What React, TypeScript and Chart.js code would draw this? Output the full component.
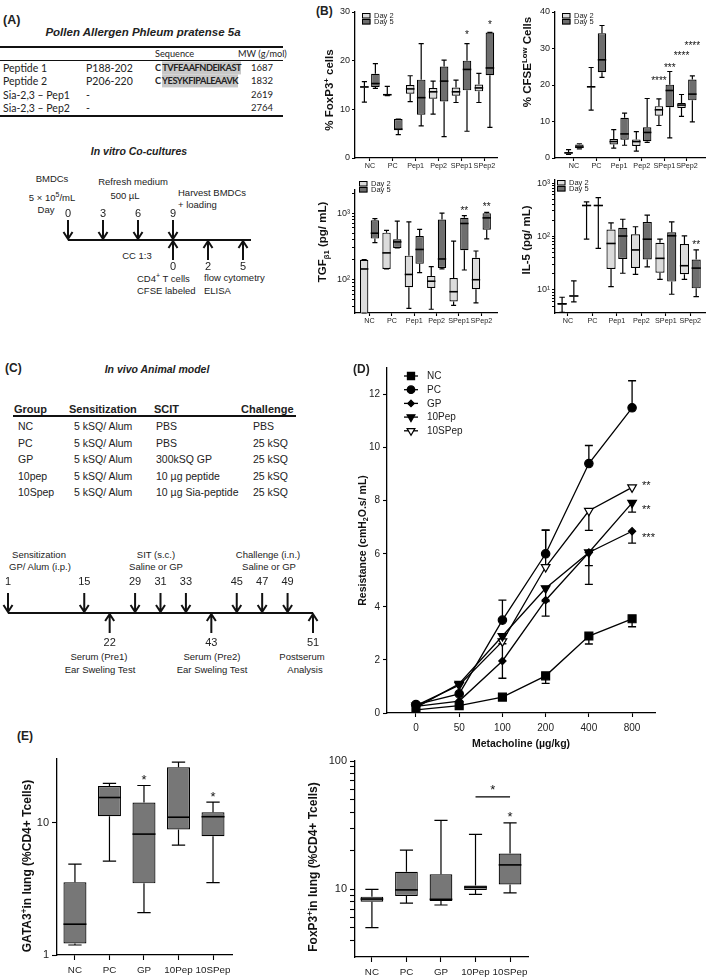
import React, { useEffect, useRef } from 'react';
import { Chart, registerables } from 'chart.js';

Chart.register(...registerables);

const FONT = "'Liberation Sans', Arial, Helvetica, sans-serif";
const TABLE_FONT = "Lato, 'Liberation Sans', sans-serif";
Chart.defaults.font.family = FONT;
Chart.defaults.color = '#222';

// ================= DATA =================
// Panel A - peptide table
const peptideNames = ['Peptide 1', 'Peptide 2', 'Sia-2,3 – Pep1', 'Sia-2,3 – Pep2'];
const peptideRegions = ['P188-202', 'P206-220', '-', '-'];
const peptideSequences = ['TVFEAAFNDEIKAST', 'YESYKFIPALEAAVK', '', ''];
const peptideMW = ['1687', '1832', '2619', '2764'];

// Panel A - in vitro timeline
const vitroSlots = ['D0', 'D3', 'D6', 'D9', 'CC2', 'CC5'];
const vitroDownSlots = ['D0', 'D3', 'D6', 'D9'];
const vitroDownDays = ['0', '3', '6', '9'];
const vitroUpSlots = ['D9', 'CC2', 'CC5'];
const vitroUpDays = ['0', '2', '5'];

// Panel B - box stats [min, q1, median, q3, max]
const bGroups = ['NC', 'PC', 'Pep1', 'Pep2', 'SPep1', 'SPep2'];
const foxp3Day2 = [[11.5, 14.5, 14.6, 14.7, 15.7], [12.8, 12.9, 13.0, 13.1, 14.7], [11.6, 13.2, 14.2, 15.0, 16.9], [9.0, 12.2, 13.6, 14.4, 15.8], [11.4, 12.8, 13.6, 14.5, 16.0], [11.4, 13.7, 14.4, 15.1, 17.4]];
const foxp3Day5 = [[14.3, 14.6, 15.3, 17.3, 19.4], [4.8, 5.8, 5.9, 8.0, 8.0], [6.6, 8.9, 12.4, 16.1, 23.5], [4.4, 11.6, 15.8, 18.8, 20.1], [5.5, 13.9, 18.2, 20.0, 23.5], [6.3, 17.0, 18.5, 25.8, 25.8]];
const cfseDay2 = [[1.0, 1.2, 1.4, 1.6, 2.3], [13.1, 19.4, 19.5, 19.6, 24.8], [2.7, 3.7, 4.5, 5.2, 7.8], [1.9, 3.3, 4.5, 5.1, 7.2], [8.9, 11.6, 13.2, 14.2, 16.2], [11.4, 13.7, 14.5, 15.1, 17.4]];
const cfseDay5 = [[2.5, 2.7, 3.0, 3.7, 3.9], [22.1, 23.5, 26.9, 34.2, 36.3], [3.5, 5.0, 6.6, 11.0, 12.3], [4.3, 4.6, 7.0, 8.4, 16.3], [5.5, 13.9, 18.5, 20.1, 23.7], [9.9, 15.8, 17.5, 21.5, 22.5]];
const tgfDay2 = [[1, 1, 145, 200, 200], [145, 145, 253, 510, 550], [37, 77, 120, 230, 740], [36, 75, 95, 114, 157], [41, 47, 66, 106, 380], [45, 72, 100, 213, 270]];
const tgfDay5 = [[360, 415, 500, 780, 830], [300, 300, 370, 405, 760], [128, 173, 285, 455, 570], [145, 150, 205, 800, 1000], [140, 277, 700, 850, 920], [410, 565, 850, 1000, 1030]];
const il5Day2 = [[3.8, 5.3, 5.5, 5.7, 7.3], [89, 370, 380, 390, 445], [11.5, 24.6, 74, 135, 180], [19.6, 25.7, 56, 110, 152], [15.8, 21, 39, 76, 89], [15.8, 19.6, 28.4, 72, 103]];
const il5Day5 = [[6.0, 7.5, 7.7, 7.9, 14.8], [60, 370, 380, 390, 535], [20.5, 38, 102, 145, 210], [27, 37, 89, 187, 250], [8.3, 14.3, 103, 120, 187], [7.5, 10.7, 25.6, 37, 56]];

// Panel C - animal model table
const groupNames = ['NC', 'PC', 'GP', '10pep', '10Spep'];
const sensitizations = ['5 kSQ/ Alum', '5 kSQ/ Alum', '5 kSQ/ Alum', '5 kSQ/ Alum', '5 kSQ/ Alum'];
const scitTreatments = ['PBS', 'PBS', '300kSQ GP', '10 µg peptide', '10 µg Sia-peptide'];
const challenges = ['PBS', '25 kSQ', '25 kSQ', '25 kSQ', '25 kSQ'];

// Panel C - in vivo timeline (blank slots keep the spacing of the schedule)
const vivoSlots = ['1', '', '', '15', '22', '29', '31', '33', '43', '45', '47', '49', '51'];
const vivoDownDays = ['1', '15', '29', '31', '33', '45', '47', '49'];
const vivoUpDays = ['22', '43', '51'];

// Panel D - airway resistance
const doseLabels = ['0', '50', '100', '200', '400', '800'];
const ncResistance = [0.12, 0.28, 0.6, 1.4, 2.9, 3.55];
const ncErrUp = [0, 0, 0, 0, 0, 0];
const ncErrDown = [0, 0, 0, 0.28, 0.3, 0.3];
const pcResistance = [0.32, 0.72, 3.5, 6.0, 9.4, 11.5];
const pcErrUp = [0, 0, 0.75, 0.9, 0.68, 1.02];
const pcErrDown = [0, 0, 0, 0, 0, 0];
const gpResistance = [0.25, 0.45, 1.96, 4.25, 6.05, 6.85];
const gpErrUp = [0, 0, 0.65, 0, 0, 0];
const gpErrDown = [0, 0, 0.65, 0.6, 1.2, 0.45];
const pep10Resistance = [0.2, 1.1, 2.9, 4.7, 6.05, 7.92];
const pep10ErrUp = [0, 0, 0, 0, 0, 0];
const pep10ErrDown = [0, 0, 0, 0.5, 0.5, 0.35];
const spep10Resistance = [0.28, 1.05, 2.7, 5.5, 7.62, 8.5];
const spep10ErrUp = [0, 0, 0, 1.38, 0, 0];
const spep10ErrDown = [0, 0, 0, 0, 0.74, 0];

// Panel E - lung T cells [min, q1, median, q3, max]
const eGroups = ['NC', 'PC', 'GP', '10Pep', '10SPep'];
const gata3Lung = [[1.19, 1.22, 1.71, 3.54, 4.87], [5.13, 11.2, 15.5, 18.9, 19.8], [2.09, 3.48, 8.2, 14.2, 19.1], [6.78, 8.9, 11.0, 26.2, 28.7], [3.52, 7.9, 11.1, 12.0, 14.3]];
const foxp3Lung = [[5.03, 8.0, 8.4, 8.77, 10.0], [7.8, 8.88, 9.9, 13.7, 20.2], [7.55, 8.1, 8.36, 13.1, 34.5], [9.14, 9.9, 10.4, 10.7, 26.8], [9.4, 10.9, 15.5, 19.0, 33.0]];

// ================= HELPERS =================
type Rect = { l: number; t: number; w: number; h: number };
type Area = { l: number; t: number; r: number; b: number };
type Seg = { t: string; sup?: boolean; sub?: boolean };
type Mark = { ds: number; i: number; v: number; text: string; dx?: number };

const LIGHT = '#dcdcdc';
const DARK = '#6e6e6e';
const EFILL = '#777777';
const SUPD: Record<number, string> = { 0: '⁰', 1: '¹', 2: '²', 3: '³' };

const isPow10 = (v: number) => {
  const l = Math.log10(v);
  return Math.abs(l - Math.round(l)) < 1e-9;
};
const powerLabel = (v: number) => (isPow10(v) ? '10' + SUPD[Math.round(Math.log10(v))] : '');
const plainPowerLabel = (v: number) => (isPow10(v) ? String(Math.round(v)) : '');
const logFilter = (minor: boolean) => (s: any) => {
  s.ticks = s.ticks.filter((t: any) => {
    const e = Math.floor(Math.log10(t.value) + 1e-9);
    const m = t.value / Math.pow(10, e);
    const intM = Math.abs(m - Math.round(m)) < 1e-6;
    return intM && (minor || Math.round(m) === 1) && t.value >= s.min * 0.999 && t.value <= s.max * 1.001;
  });
};

function drawRich(ctx: CanvasRenderingContext2D, segs: Seg[], cx: number, cy: number, size: number, bold: boolean, rotate: boolean) {
  ctx.save();
  ctx.translate(cx, cy);
  if (rotate) ctx.rotate(-Math.PI / 2);
  const fontOf = (s: number) => `${bold ? 'bold ' : ''}${s}px ${FONT}`;
  const parts = segs.map((g) => {
    const s = g.sup || g.sub ? size * 0.68 : size;
    ctx.font = fontOf(s);
    return { ...g, s, w: ctx.measureText(g.t).width };
  });
  const total = parts.reduce((acc, p) => acc + p.w, 0);
  let x = -total / 2;
  ctx.fillStyle = '#111';
  ctx.textAlign = 'left';
  ctx.textBaseline = 'alphabetic';
  for (const p of parts) {
    ctx.font = fontOf(p.s);
    const dy = p.sup ? -size * 0.4 : p.sub ? size * 0.22 : 0;
    ctx.fillText(p.t, x, size * 0.36 + dy);
    x += p.w;
  }
  ctx.restore();
}

function frame(c: Rect, a: Area) {
  return {
    responsive: false,
    maintainAspectRatio: false,
    animation: false,
    devicePixelRatio: 1,
    events: [],
    layout: { padding: { left: 0, top: a.t - c.t, right: c.l + c.w - a.r, bottom: 0 } },
    plugins: { legend: { display: false }, tooltip: { enabled: false } },
  };
}

const axisBorder = { display: true, color: '#000', width: 1.3 };
const tickGrid = (len: number) => ({ display: true, drawOnChartArea: false, drawTicks: true, tickLength: len, color: '#000', tickColor: '#000', tickWidth: 1.1, offset: false });

function yAxis(c: Rect, a: Area, o: any) {
  return {
    type: o.log ? 'logarithmic' : 'linear',
    min: o.min,
    max: o.max,
    afterFit: (s: any) => { s.width = a.l - c.l; },
    afterBuildTicks: o.filter,
    border: axisBorder,
    grid: tickGrid(o.tickLen),
    ticks: { font: { size: o.font }, color: '#222', padding: o.pad, autoSkip: false, stepSize: o.step, callback: o.label },
  };
}

function xIndexAxis(c: Rect, a: Area, labels: string[], min: number, max: number, font: number, tickLen: number, pad: number) {
  return {
    type: 'linear',
    min,
    max,
    offset: false,
    afterFit: (s: any) => { s.height = c.t + c.h - a.b; },
    afterBuildTicks: (s: any) => { s.ticks = labels.map((_, i) => ({ value: i })); },
    border: axisBorder,
    grid: tickGrid(tickLen),
    ticks: { font: { size: font }, color: '#222', padding: pad, autoSkip: false, maxRotation: 0, minRotation: 0, callback: (v: number) => labels[v] ?? '' },
  };
}

function axisTitlePlugin(c: Rect, yTitle: { segs: Seg[]; x: number; y?: number; size: number } | null, xTitle: { segs: Seg[]; y: number; size: number } | null) {
  return {
    id: 'axisTitles',
    afterDraw(chart: any) {
      const { ctx, chartArea } = chart;
      if (yTitle) {
        const cy = yTitle.y !== undefined ? yTitle.y - c.t : (chartArea.top + chartArea.bottom) / 2;
        drawRich(ctx, yTitle.segs, yTitle.x - c.l, cy, yTitle.size, true, true);
      }
      if (xTitle) {
        drawRich(ctx, xTitle.segs, (chartArea.left + chartArea.right) / 2, xTitle.y - c.t, xTitle.size, true, false);
      }
    },
  };
}

function whiskerPlugin(stats: number[][][], cap: number) {
  return {
    id: 'whiskers',
    afterDatasetsDraw(chart: any) {
      const { ctx, chartArea } = chart;
      const ys = chart.scales.y;
      const clampY = (p: number) => Math.min(Math.max(p, chartArea.top), chartArea.bottom);
      ctx.save();
      ctx.strokeStyle = '#000';
      stats.forEach((ds, di) => {
        const meta = chart.getDatasetMeta(di);
        ds.forEach((s, i) => {
          const el = meta.data[i];
          if (!el) return;
          const x = el.x;
          const w = el.width;
          const p = s.map((v) => clampY(ys.getPixelForValue(v)));
          ctx.lineWidth = 1.2;
          ctx.beginPath();
          ctx.moveTo(x, p[3]); ctx.lineTo(x, p[4]);
          ctx.moveTo(x, p[1]); ctx.lineTo(x, p[0]);
          ctx.moveTo(x - (w * cap) / 2, p[4]); ctx.lineTo(x + (w * cap) / 2, p[4]);
          ctx.moveTo(x - (w * cap) / 2, p[0]); ctx.lineTo(x + (w * cap) / 2, p[0]);
          ctx.stroke();
          ctx.lineWidth = 1.6;
          ctx.beginPath();
          ctx.moveTo(x - w / 2, p[2]); ctx.lineTo(x + w / 2, p[2]);
          ctx.stroke();
        });
      });
      ctx.restore();
    },
  };
}

function marksPlugin(marks: Mark[], size: number, align: CanvasTextAlign) {
  return {
    id: 'marks',
    afterDraw(chart: any) {
      const { ctx } = chart;
      const ys = chart.scales.y;
      ctx.save();
      ctx.fillStyle = '#111';
      ctx.font = `${size}px ${FONT}`;
      ctx.textAlign = align;
      ctx.textBaseline = 'alphabetic';
      marks.forEach((m) => {
        const el = chart.getDatasetMeta(m.ds).data[m.i];
        if (!el) return;
        ctx.fillText(m.text, el.x + (m.dx || 0), ys.getPixelForValue(m.v) + size * 0.58);
      });
      ctx.restore();
    },
  };
}

function boxLegendPlugin(dx: number, dy: number, size: number) {
  return {
    id: 'boxLegend',
    afterDraw(chart: any) {
      const { ctx, chartArea } = chart;
      ctx.save();
      chart.data.datasets.forEach((d: any, k: number) => {
        const x = chartArea.left + dx;
        const y = chartArea.top + dy + k * 6;
        ctx.fillStyle = d.backgroundColor;
        ctx.fillRect(x, y, 8.5, 5.5);
        ctx.strokeStyle = '#000';
        ctx.lineWidth = 1;
        ctx.strokeRect(x + 0.5, y + 0.5, 7.5, 4.5);
        ctx.fillStyle = '#222';
        ctx.font = `${size}px ${FONT}`;
        ctx.textAlign = 'left';
        ctx.textBaseline = 'middle';
        ctx.fillText(d.label, x + 12, y + 3);
      });
      ctx.restore();
    },
  };
}

function bracketPlugin(from: number, to: number, v: number, text: string, tv: number, size: number) {
  return {
    id: 'bracket',
    afterDraw(chart: any) {
      const { ctx } = chart;
      const ys = chart.scales.y;
      const meta = chart.getDatasetMeta(0);
      const x1 = meta.data[from].x;
      const x2 = meta.data[to].x;
      const y = ys.getPixelForValue(v);
      ctx.save();
      ctx.strokeStyle = '#000';
      ctx.lineWidth = 1.3;
      ctx.beginPath();
      ctx.moveTo(x1, y); ctx.lineTo(x2, y);
      ctx.stroke();
      ctx.fillStyle = '#111';
      ctx.font = `${size}px ${FONT}`;
      ctx.textAlign = 'center';
      ctx.fillText(text, (x1 + x2) / 2, ys.getPixelForValue(tv) + size * 0.58);
      ctx.restore();
    },
  };
}

function boxChart(k: any) {
  const { c, a } = k;
  const datasets = k.series.map((s: any) => ({
    type: 'bar',
    label: s.label,
    data: s.stats.map((st: number[], i: number) => ({ x: i, y: [st[1], st[3]] })),
    backgroundColor: s.color,
    borderColor: '#000',
    borderWidth: 1.2,
    borderSkipped: false,
    categoryPercentage: k.cp,
    barPercentage: k.bp,
  }));
  const plugins: any[] = [
    whiskerPlugin(k.series.map((s: any) => s.stats), k.cap),
    marksPlugin(k.marks, k.markSize, 'center'),
    axisTitlePlugin(c, k.title, null),
  ];
  if (k.legend) plugins.push(boxLegendPlugin(k.legend.dx, k.legend.dy, k.legend.size));
  if (k.bracket) plugins.push(bracketPlugin(k.bracket.from, k.bracket.to, k.bracket.v, k.bracket.text, k.bracket.tv, k.markSize));
  return {
    type: 'bar',
    data: { datasets },
    options: {
      ...frame(c, a),
      scales: {
        x: xIndexAxis(c, a, k.groups, k.xMin, k.xMax, k.xFont, k.tickLen, k.xPad),
        y: yAxis(c, a, k.y),
      },
    },
    plugins,
  };
}

// ---------- marker drawing for the resistance legend ----------
function drawMarker(ctx: CanvasRenderingContext2D, style: string, rot: number, x: number, y: number, r: number, fill: string) {
  ctx.beginPath();
  if (style === 'rect') {
    const s = r * Math.SQRT1_2;
    ctx.rect(x - s, y - s, 2 * s, 2 * s);
  } else if (style === 'circle') {
    ctx.arc(x, y, r, 0, Math.PI * 2);
  } else if (style === 'rectRot') {
    ctx.moveTo(x, y - r); ctx.lineTo(x + r, y); ctx.lineTo(x, y + r); ctx.lineTo(x - r, y); ctx.closePath();
  } else {
    let rad = (rot * Math.PI) / 180;
    ctx.moveTo(x + Math.sin(rad) * r, y - Math.cos(rad) * r);
    rad += (2 * Math.PI) / 3;
    ctx.lineTo(x + Math.sin(rad) * r, y - Math.cos(rad) * r);
    rad += (2 * Math.PI) / 3;
    ctx.lineTo(x + Math.sin(rad) * r, y - Math.cos(rad) * r);
    ctx.closePath();
  }
  ctx.fillStyle = fill;
  ctx.fill();
  ctx.strokeStyle = '#000';
  ctx.lineWidth = 1.2;
  ctx.stroke();
}

// ================= CHART GEOMETRY =================
const B1 = { c: { l: 285, t: 0, w: 222, h: 180 }, a: { l: 355, t: 12, r: 497, b: 158 } };
const B2 = { c: { l: 505, t: 0, w: 204, h: 180 }, a: { l: 555, t: 12, r: 705, b: 158 } };
const B3 = { c: { l: 285, t: 176, w: 222, h: 158 }, a: { l: 355, t: 190, r: 497, b: 313 } };
const B4 = { c: { l: 505, t: 170, w: 204, h: 164 }, a: { l: 555, t: 180, r: 705, b: 313 } };
const DG = { c: { l: 330, t: 350, w: 379, h: 405 }, a: { l: 387, t: 368, r: 655, b: 713 } };
const E1 = { c: { l: 0, t: 745, w: 245, h: 235 }, a: { l: 57, t: 759, r: 232, b: 955 } };
const E2 = { c: { l: 290, t: 745, w: 250, h: 235 }, a: { l: 355, t: 761, r: 528, b: 957 } };
const TA = { l: 0, t: 205, w: 262, h: 75 };
const TC = { l: 0, t: 570, w: 330, h: 90 };

const bCommon = { cp: 0.96, bp: 0.78, cap: 0.6, xFont: 7.2, tickLen: 3, xPad: 1, markSize: 10, groups: bGroups };

const buildFoxp3 = () =>
  boxChart({
    ...bCommon, ...B1, xMin: -0.65, xMax: 5.55,
    series: [{ label: 'Day 2', stats: foxp3Day2, color: LIGHT }, { label: 'Day 5', stats: foxp3Day5, color: DARK }],
    y: { log: false, min: 0, max: 30, step: 10, font: 9, pad: 2, tickLen: 3 },
    title: { segs: [{ t: '% FoxP3' }, { t: '+', sup: true }, { t: ' cells' }], x: 329, y: 90, size: 11.5 },
    legend: { dx: 7, dy: 1, size: 7.5 },
    marks: [{ ds: 1, i: 4, v: 25.9, text: '*' }, { ds: 1, i: 5, v: 27.9, text: '*' }],
  });

const buildCfse = () =>
  boxChart({
    ...bCommon, ...B2, xMin: -0.84, xMax: 5.8,
    series: [{ label: 'Day 2', stats: cfseDay2, color: LIGHT }, { label: 'Day 5', stats: cfseDay5, color: DARK }],
    y: { log: false, min: 0, max: 40, step: 10, font: 9, pad: 2, tickLen: 3 },
    title: { segs: [{ t: '% CFSE' }, { t: 'Low', sup: true }, { t: ' Cells' }], x: 527, y: 62, size: 11.5 },
    legend: { dx: 7, dy: 1, size: 7.5 },
    marks: [
      { ds: 0, i: 4, v: 22, text: '****' },
      { ds: 1, i: 4, v: 25.4, text: '***' },
      { ds: 0, i: 5, v: 28.8, text: '****' },
      { ds: 1, i: 5, v: 31.4, text: '****' },
    ],
  });

const buildTgf = () =>
  boxChart({
    ...bCommon, ...B3, xMin: -0.65, xMax: 5.7,
    series: [{ label: 'Day 2', stats: tgfDay2, color: LIGHT }, { label: 'Day 5', stats: tgfDay5, color: DARK }],
    y: { log: true, min: 31.6, max: 2230, font: 9, pad: 2, tickLen: 3, label: powerLabel, filter: logFilter(true) },
    title: { segs: [{ t: 'TGF' }, { t: 'β1', sub: true }, { t: ' (pg/ mL)' }], x: 322, y: 242, size: 11.5 },
    legend: { dx: 4, dy: -9, size: 7.5 },
    marks: [{ ds: 1, i: 4, v: 1180, text: '**' }, { ds: 1, i: 5, v: 1350, text: '**' }],
  });

const buildIl5 = () =>
  boxChart({
    ...bCommon, ...B4, xMin: -0.53, xMax: 5.6,
    series: [{ label: 'Day 2', stats: il5Day2, color: LIGHT }, { label: 'Day 5', stats: il5Day5, color: DARK }],
    y: { log: true, min: 3.7, max: 1140, font: 9, pad: 2, tickLen: 3, label: powerLabel, filter: logFilter(true) },
    title: { segs: [{ t: 'IL-5 (pg/ mL)' }], x: 526, y: 240, size: 11.5 },
    legend: { dx: 2, dy: 0, size: 7.5 },
    marks: [{ ds: 1, i: 5, v: 78, text: '**' }],
  });

const buildGata3 = () =>
  boxChart({
    ...E1, groups: eGroups, xMin: -0.52, xMax: 4.55, cp: 0.9, bp: 0.74, cap: 0.58, xFont: 9.8, tickLen: 5, xPad: 4, markSize: 13,
    series: [{ label: 'GATA3', stats: gata3Lung, color: EFILL }],
    y: { log: true, min: 1, max: 30.3, font: 11, pad: 3, tickLen: 5, label: plainPowerLabel, filter: logFilter(false) },
    title: { segs: [{ t: 'GATA3' }, { t: '+', sup: true }, { t: 'in lung (%CD4+ Tcells)' }], x: 27, y: 866, size: 12 },
    marks: [{ ds: 0, i: 2, v: 22.3, text: '*' }, { ds: 0, i: 4, v: 16.6, text: '*' }],
  });

const buildFoxp3Lung = () =>
  boxChart({
    ...E2, groups: eGroups, xMin: -0.49, xMax: 4.52, cp: 0.9, bp: 0.73, cap: 0.58, xFont: 9.8, tickLen: 5, xPad: 4, markSize: 13,
    series: [{ label: 'FoxP3', stats: foxp3Lung, color: EFILL }],
    y: { log: true, min: 2.97, max: 100, font: 11, pad: 3, tickLen: 5, label: plainPowerLabel, filter: logFilter(true) },
    title: { segs: [{ t: 'FoxP3' }, { t: '+', sup: true }, { t: 'in lung (%CD4+ Tcells)' }], x: 313, y: 867, size: 12 },
    marks: [{ ds: 0, i: 4, v: 39, text: '*' }],
    bracket: { from: 3, to: 4, v: 52.6, text: '*', tv: 63 },
  });

const resistanceSeries = [
  { label: 'NC', y: ncResistance, up: ncErrUp, down: ncErrDown, style: 'rect', rot: 0, r: 5.6, fill: '#000' },
  { label: 'PC', y: pcResistance, up: pcErrUp, down: pcErrDown, style: 'circle', rot: 0, r: 4.2, fill: '#000' },
  { label: 'GP', y: gpResistance, up: gpErrUp, down: gpErrDown, style: 'rectRot', rot: 0, r: 3.6, fill: '#000' },
  { label: '10Pep', y: pep10Resistance, up: pep10ErrUp, down: pep10ErrDown, style: 'triangle', rot: 180, r: 5, fill: '#000' },
  { label: '10SPep', y: spep10Resistance, up: spep10ErrUp, down: spep10ErrDown, style: 'triangle', rot: 180, r: 5, fill: '#fff' },
];

const buildResistance = () => {
  const { c, a } = DG;
  const datasets = resistanceSeries.map((s) => ({
    type: 'line',
    label: s.label,
    data: s.y.map((v, i) => ({ x: i, y: v })),
    borderColor: '#000',
    borderWidth: 1.3,
    tension: 0,
    fill: false,
    pointStyle: s.style,
    pointRotation: s.rot,
    pointRadius: s.r,
    pointBackgroundColor: s.fill,
    pointBorderColor: '#000',
    pointBorderWidth: 1.2,
  }));
  const errorBars = {
    id: 'errorBars',
    beforeDatasetsDraw(chart: any) {
      const { ctx } = chart;
      const ys = chart.scales.y;
      ctx.save();
      ctx.strokeStyle = '#000';
      ctx.lineWidth = 1.3;
      resistanceSeries.forEach((s, di) => {
        const meta = chart.getDatasetMeta(di);
        s.y.forEach((v, i) => {
          const x = meta.data[i].x;
          const y0 = ys.getPixelForValue(v);
          [s.up[i] ? v + s.up[i] : null, s.down[i] ? v - s.down[i] : null].forEach((e) => {
            if (e === null) return;
            const y1 = ys.getPixelForValue(e);
            ctx.beginPath();
            ctx.moveTo(x, y0); ctx.lineTo(x, y1);
            ctx.moveTo(x - 4, y1); ctx.lineTo(x + 4, y1);
            ctx.stroke();
          });
        });
      });
      ctx.restore();
    },
  };
  const legend = {
    id: 'lineLegend',
    afterDraw(chart: any) {
      const { ctx, chartArea } = chart;
      ctx.save();
      resistanceSeries.forEach((s, k) => {
        const x = chartArea.left + 17;
        const y = chartArea.top + 8 + k * 13.7;
        ctx.strokeStyle = '#000';
        ctx.lineWidth = 1.3;
        ctx.beginPath();
        ctx.moveTo(x, y); ctx.lineTo(x + 14, y);
        ctx.stroke();
        drawMarker(ctx, s.style, s.rot, x + 7, y, s.r * 0.9, s.fill);
        ctx.fillStyle = '#222';
        ctx.font = `10px ${FONT}`;
        ctx.textAlign = 'left';
        ctx.textBaseline = 'middle';
        ctx.fillText(s.label, x + 23, y + 0.5);
      });
      ctx.restore();
    },
  };
  return {
    type: 'line',
    data: { datasets },
    options: {
      ...frame(c, a),
      scales: {
        x: xIndexAxis(c, a, doseLabels, -0.67, 5.53, 10, 4, 5),
        y: yAxis(c, a, {
          log: false, min: 0, max: 13, step: 2, font: 10, pad: 3, tickLen: 4,
          filter: (s: any) => { s.ticks = s.ticks.filter((t: any) => t.value % 2 === 0); },
        }),
      },
    },
    plugins: [
      errorBars,
      legend,
      marksPlugin(
        [
          { ds: 4, i: 5, v: 8.68, text: '**', dx: 10 },
          { ds: 3, i: 5, v: 7.78, text: '**', dx: 10 },
          { ds: 2, i: 5, v: 6.72, text: '***', dx: 10 },
        ],
        11,
        'left'
      ),
      axisTitlePlugin(
        c,
        { segs: [{ t: 'Resistance (cmH' }, { t: '2', sub: true }, { t: 'O.s/ mL)' }], x: 362, size: 10.5 },
        { segs: [{ t: 'Metacholine (µg/kg)' }], y: 743, size: 10.5 }
      ),
    ],
  };
};

// ---------- timelines ----------
function drawArrow(ctx: CanvasRenderingContext2D, x: number, tail: number, head: number) {
  const d = head > tail ? 1 : -1;
  ctx.beginPath();
  ctx.moveTo(x, tail); ctx.lineTo(x, head);
  ctx.moveTo(x - 4.5, head - d * 7); ctx.lineTo(x, head); ctx.lineTo(x + 4.5, head - d * 7);
  ctx.stroke();
}

function timelineConfig(rect: Rect, pad: any, slots: string[], down: string[], downLabels: string[], up: string[], upLabels: string[], extend: number, downOff: number, upOff: number) {
  const plugin = {
    id: 'timeline',
    afterDraw(chart: any) {
      const { ctx, chartArea } = chart;
      const xs = chart.scales.x;
      const px = (s: string) => xs.getPixelForValue(slots.indexOf(s));
      const ly = Math.round((chartArea.top + chartArea.bottom) / 2);
      ctx.save();
      ctx.strokeStyle = '#111';
      ctx.lineWidth = 2;
      ctx.beginPath();
      ctx.moveTo(xs.getPixelForValue(0), ly);
      ctx.lineTo(xs.getPixelForValue(slots.length - 1) + extend, ly);
      ctx.stroke();
      ctx.fillStyle = '#222';
      ctx.font = `11px ${FONT}`;
      ctx.textAlign = 'center';
      ctx.textBaseline = 'middle';
      down.forEach((s, k) => {
        const x = px(s);
        drawArrow(ctx, x, ly - 20, ly - 1);
        ctx.fillText(downLabels[k], x, ly - downOff);
      });
      up.forEach((s, k) => {
        const x = px(s);
        drawArrow(ctx, x, ly + 20, ly + 1);
        ctx.fillText(upLabels[k], x, ly + upOff);
      });
      ctx.restore();
    },
  };
  return {
    type: 'line',
    data: { labels: slots, datasets: [] },
    options: {
      responsive: false,
      animation: false,
      devicePixelRatio: 1,
      events: [],
      layout: { padding: pad },
      plugins: { legend: { display: false }, tooltip: { enabled: false } },
      scales: { x: { type: 'category', display: false, offset: false }, y: { display: false, min: 0, max: 1 } },
    },
    plugins: [plugin],
  };
}

const buildVitro = () =>
  timelineConfig(TA, { left: 68, right: 19, top: 15, bottom: 20 }, vitroSlots, vitroDownSlots, vitroDownDays, vitroUpSlots, vitroUpDays, 8, 26, 27);
const buildVivo = () =>
  timelineConfig(TC, { left: 8, right: 17, top: 23, bottom: 27 }, vivoSlots, vivoDownDays, vivoDownDays, vivoUpDays, vivoUpDays, 0, 31, 30);

// ================= COMPONENTS =================
function ChartCanvas({ rect, build }: { rect: Rect; build: () => any }) {
  const ref = useRef<HTMLCanvasElement | null>(null);
  useEffect(() => {
    if (!ref.current) return;
    const chart = new Chart(ref.current, build());
    return () => chart.destroy();
  }, [build]);
  return (
    <canvas
      ref={ref}
      width={rect.w}
      height={rect.h}
      style={{ position: 'absolute', left: rect.l, top: rect.t, width: rect.w, height: rect.h }}
    />
  );
}

function Txt({ x, y, s = 9.5, b = false, i = false, a = 'left', f = FONT, c = '#222', ls = 0, children }: any) {
  const tx = a === 'center' ? '-50%' : a === 'right' ? '-100%' : '0';
  return (
    <div
      style={{
        position: 'absolute', left: x, top: y, transform: `translate(${tx}, -50%)`,
        fontSize: s, fontWeight: b ? 700 : 400, fontStyle: i ? 'italic' : 'normal', fontFamily: f,
        color: c, whiteSpace: 'nowrap', lineHeight: 1, letterSpacing: ls,
      }}
    >
      {children}
    </div>
  );
}

function HLine({ x, y, w, t }: any) {
  return <div style={{ position: 'absolute', left: x, top: y - t / 2, width: w, height: t, background: '#111' }} />;
}

export default function App() {
  const rowYA = (i: number) => 68 + i * 13.3;
  const rowYC = (i: number) => 426 + i * 16.5;
  return (
    <div style={{ position: 'absolute', left: 0, top: 0, width: 709, height: 980, background: '#fff', fontFamily: FONT, color: '#222', overflow: 'hidden' }}>
      {/* ---------- Panel A ---------- */}
      <Txt x={3} y={20} s={12.5} b>(A)</Txt>
      <Txt x={143} y={33} s={11.5} b i a="center">Pollen Allergen Phleum pratense 5a</Txt>
      <HLine x={0} y={47} w={283} t={1.5} />
      <Txt x={155} y={54} s={9.2} f={TABLE_FONT}>Sequence</Txt>
      <Txt x={238} y={54} s={9.2} f={TABLE_FONT}>MW (g/mol)</Txt>
      <HLine x={0} y={60} w={283} t={0.8} />
      {peptideNames.map((n, i) => (
        <React.Fragment key={n}>
          <Txt x={3} y={rowYA(i)} s={10.5} f={TABLE_FONT}>{n}</Txt>
          <Txt x={86} y={rowYA(i)} s={10.5} f={TABLE_FONT}>{peptideRegions[i]}</Txt>
          {peptideSequences[i] ? (
            <Txt x={155} y={rowYA(i)} s={9.2} f={TABLE_FONT} b ls={-0.45}>
              C <span style={{ background: '#c8c8c8', padding: '1px 0px' }}>{peptideSequences[i]}</span>
            </Txt>
          ) : null}
          <Txt x={251} y={rowYA(i)} s={9.5} f={TABLE_FONT}>{peptideMW[i]}</Txt>
        </React.Fragment>
      ))}
      <HLine x={0} y={116} w={283} t={1.5} />

      <Txt x={139} y={151} s={10.5} b i a="center">In vitro Co-cultures</Txt>
      <Txt x={52} y={179} a="center">BMDCs</Txt>
      <Txt x={52} y={197} a="center">5 × 10<sup style={{ fontSize: 7 }}>5</sup>/mL</Txt>
      <Txt x={46} y={210} a="center">Day</Txt>
      <Txt x={133} y={182} a="center">Refresh medium</Txt>
      <Txt x={125} y={196} a="center">500 µL</Txt>
      <Txt x={178} y={193}>Harvest BMDCs</Txt>
      <Txt x={178} y={205}>+ loading</Txt>
      <Txt x={137} y={256} a="center">CC 1:3</Txt>
      <Txt x={137} y={278}>CD4<sup style={{ fontSize: 7 }}>+</sup> T cells</Txt>
      <Txt x={137} y={291}>CFSE labeled</Txt>
      <Txt x={204} y={278}>flow cytometry</Txt>
      <Txt x={204} y={291}>ELISA</Txt>
      <ChartCanvas rect={TA} build={buildVitro} />

      {/* ---------- Panel B ---------- */}
      <Txt x={316} y={11} s={12} b>(B)</Txt>
      <ChartCanvas rect={B1.c} build={buildFoxp3} />
      <ChartCanvas rect={B2.c} build={buildCfse} />
      <ChartCanvas rect={B3.c} build={buildTgf} />
      <ChartCanvas rect={B4.c} build={buildIl5} />

      {/* ---------- Panel C ---------- */}
      <Txt x={5} y={368} s={12} b>(C)</Txt>
      <Txt x={157} y={369} s={10.5} b i a="center">In vivo Animal model</Txt>
      <Txt x={14} y={409} s={11} b>Group</Txt>
      <Txt x={69} y={409} s={11} b>Sensitization</Txt>
      <Txt x={154} y={409} s={11} b>SCIT</Txt>
      <Txt x={241} y={409} s={11} b>Challenge</Txt>
      <HLine x={13} y={416} w={283} t={1.5} />
      {groupNames.map((g, i) => (
        <React.Fragment key={g}>
          <Txt x={18} y={rowYC(i)} s={10.5}>{g}</Txt>
          <Txt x={74} y={rowYC(i)} s={10.5}>{sensitizations[i]}</Txt>
          <Txt x={156} y={rowYC(i)} s={10.5}>{scitTreatments[i]}</Txt>
          <Txt x={253} y={rowYC(i)} s={10.5}>{challenges[i]}</Txt>
        </React.Fragment>
      ))}
      <Txt x={39} y={555} a="center">Sensitization</Txt>
      <Txt x={40} y={567} a="center">GP/ Alum (i.p.)</Txt>
      <Txt x={156} y={555} a="center">SIT (s.c.)</Txt>
      <Txt x={156} y={567} a="center">Saline or GP</Txt>
      <Txt x={268} y={555} a="center">Challenge (i.n.)</Txt>
      <Txt x={269} y={567} a="center">Saline or GP</Txt>
      <Txt x={99} y={657} a="center">Serum (Pre1)</Txt>
      <Txt x={100} y={670} a="center">Ear Sweling Test</Txt>
      <Txt x={212} y={657} a="center">Serum (Pre2)</Txt>
      <Txt x={212} y={670} a="center">Ear Sweling Test</Txt>
      <Txt x={302} y={657} a="center">Postserum</Txt>
      <Txt x={305} y={670} a="center">Analysis</Txt>
      <ChartCanvas rect={TC} build={buildVivo} />

      {/* ---------- Panel D ---------- */}
      <Txt x={353} y={369} s={12} b>(D)</Txt>
      <ChartCanvas rect={DG.c} build={buildResistance} />

      {/* ---------- Panel E ---------- */}
      <Txt x={17} y={736} s={12} b>(E)</Txt>
      <ChartCanvas rect={E1.c} build={buildGata3} />
      <ChartCanvas rect={E2.c} build={buildFoxp3Lung} />
    </div>
  );
}
